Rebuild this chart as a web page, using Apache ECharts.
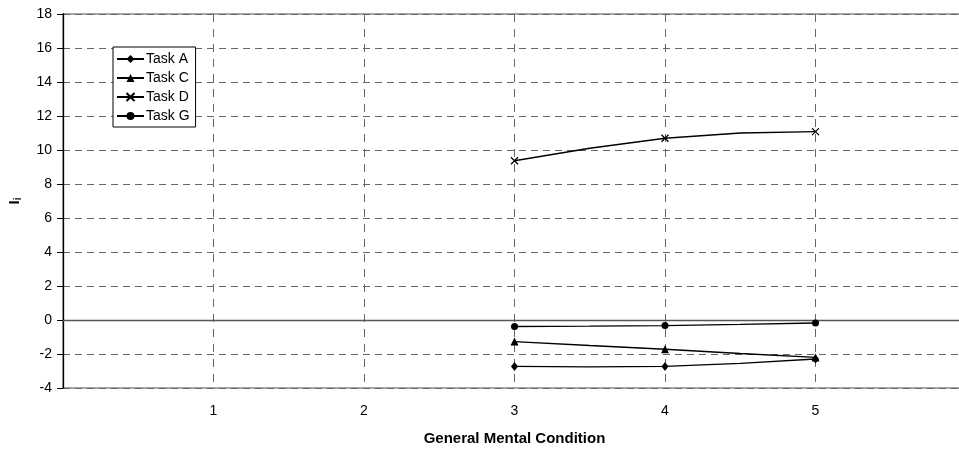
<!DOCTYPE html>
<html>
<head>
<meta charset="utf-8">
<script src="https://cdn.jsdelivr.net/npm/echarts@6/dist/echarts.min.js"></script>
<style>html,body{margin:0;padding:0;background:#fff}#c{width:959px;height:451px}</style>
</head>
<body>
<div id="c"></div>
<script>
// Data
const xValues = [3, 3.5, 4, 4.5, 5];
const taskA = [-2.73, -2.76, -2.73, -2.55, -2.29];
const taskC = [-1.27, -1.5, -1.72, -1.97, -2.2];
const taskD = [9.37, 10.1, 10.69, 11.0, 11.08];
const taskG = [-0.38, -0.36, -0.33, -0.26, -0.18];
const seriesNames = ['Task A', 'Task C', 'Task D', 'Task G'];
const xTicks = [1, 2, 3, 4, 5];
const yMin = -4, yMax = 18, yStep = 2;

const FONT = '"Liberation Sans", Arial, sans-serif';
const crossPath = 'path://M0,0L10,10M10,0L0,10';

function build(vals) {
  return xValues.map((x, i) => {
    const p = { value: [x, vals[i]] };
    if (!Number.isInteger(x)) p.symbol = 'none';
    return p;
  });
}

const seriesDefs = [
  { name: seriesNames[0], vals: taskA, symbol: 'diamond', size: [7, 9] },
  { name: seriesNames[1], vals: taskC, symbol: 'triangle', size: 8 },
  { name: seriesNames[2], vals: taskD, symbol: crossPath, size: 7 },
  { name: seriesNames[3], vals: taskG, symbol: 'circle', size: 7 }
];

const series = seriesDefs.map((d, idx) => {
  const s = {
    name: d.name,
    type: 'line',
    data: build(d.vals),
    symbol: d.symbol,
    symbolSize: d.size,
    showAllSymbol: true,
    lineStyle: { color: '#000', width: 1.4 },
    itemStyle: { color: '#000', borderColor: '#000', borderWidth: d.symbol === crossPath ? 1.3 : 0 },
    emphasis: { disabled: true },
    z: 5,
    animation: false
  };
  if (idx === 0) {
    s.markLine = {
      silent: true,
      symbol: 'none',
      label: { show: false },
      lineStyle: { color: '#555', type: 'solid', width: 1.3 },
      data: [{ yAxis: 0 }],
      animation: false
    };
  }
  return s;
});

const chart = echarts.init(document.getElementById('c'), null, { renderer: 'canvas' });
chart.setOption({
  backgroundColor: '#fff',
  animation: false,
  textStyle: { fontFamily: FONT },
  grid: {
    left: 63, width: 903, top: 14, height: 374,
    outerBoundsMode: 'none',
    containLabel: false,
    show: true, borderColor: '#a6a6a6', borderWidth: 2, backgroundColor: 'transparent'
  },
  legend: {
    data: seriesNames,
    orient: 'vertical',
    left: 113, top: 47,
    backgroundColor: '#fff',
    borderColor: '#000', borderWidth: 1,
    padding: [4, 6, 3, 3],
    itemGap: 3,
    itemWidth: 27, itemHeight: 10,
    textStyle: { fontFamily: FONT, fontSize: 14, color: '#000', padding: [0, 0, 0, -3], lineHeight: 16 }
  },
  xAxis: {
    type: 'value',
    min: 0, max: 6, interval: 1,
    name: 'General Mental Condition',
    nameLocation: 'middle',
    nameGap: 43,
    nameTextStyle: { fontFamily: FONT, fontSize: 15, fontWeight: 'bold', color: '#000' },
    axisLine: { show: false },
    axisTick: { show: false },
    axisLabel: {
      margin: 16, fontFamily: FONT, fontSize: 14, color: '#000',
      formatter: v => (xTicks.indexOf(v) >= 0 ? String(v) : '')
    },
    splitLine: { show: true, lineStyle: { color: '#666', type: [8, 7], width: 1 } }
  },
  yAxis: {
    type: 'value',
    min: yMin, max: yMax, interval: yStep,
    name: '{b|I}{s|i}',
    nameLocation: 'middle',
    nameGap: 40,
    nameTextStyle: {
      rich: {
        b: { fontFamily: FONT, fontSize: 15, fontWeight: 'bold', color: '#000' },
        s: { fontFamily: FONT, fontSize: 10, fontWeight: 'bold', color: '#000', verticalAlign: 'bottom', padding: [6, 0, 0, 0] }
      }
    },
    axisLine: { show: true, onZero: false, lineStyle: { color: '#000', width: 1.3 } },
    axisTick: { show: true, length: 6, lineStyle: { color: '#000' } },
    axisLabel: { margin: 11, fontFamily: FONT, fontSize: 14, color: '#000' },
    splitLine: { show: true, lineStyle: { color: '#666', type: [7, 5], width: 1 } }
  },
  series: series
});
</script>
</body>
</html>
